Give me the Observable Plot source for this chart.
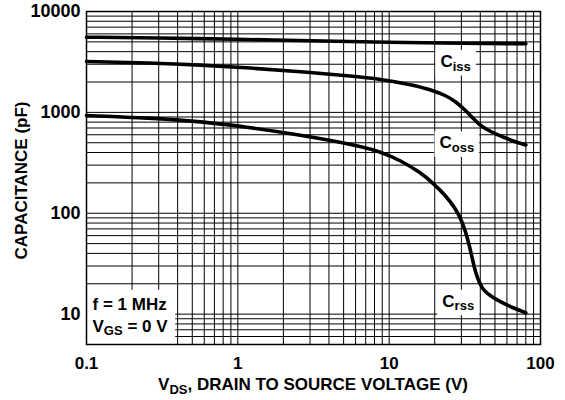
<!DOCTYPE html>
<html><head><meta charset="utf-8">
<script src="https://cdn.jsdelivr.net/npm/d3@7"></script>
<script src="https://cdn.jsdelivr.net/npm/@observablehq/plot@0.6"></script>
<style>
body{margin:0;background:#fff}
#chart svg{font-family:"Liberation Sans",Arial,sans-serif;font-weight:bold}
</style>
</head><body><div id="chart"></div>
<script>
// Ciss
const cissV = [0.1, 0.3, 1, 3, 10, 30, 80];
const cissC = [5560, 5480, 5300, 5120, 4950, 4840, 4790];
// Coss
const cossV = [0.1, 0.265, 0.566, 1.21, 2.59, 5.56, 8.77, 13.9, 18.8, 23.7, 27.5, 32.0, 35.9, 39.1, 42.9, 51.0, 64.1, 80];
const cossC = [3190, 3090, 2950, 2755, 2541, 2294, 2143, 1889, 1686, 1470, 1281, 1044, 871, 768, 692, 604, 527, 475];
// Crss
const crssV = [0.1, 0.265, 0.566, 1.21, 2.59, 5.56, 8.77, 11.9, 16.1, 19.7, 23.6, 27.5, 30.6, 33.0, 35.1, 36.6, 38.4, 40.2, 42.1, 46.8, 52.0, 58.7, 68.4, 80];
const crssC = [930, 880, 813, 708, 597, 486, 410, 333, 254, 196, 150, 111, 81, 56, 38.2, 28.4, 22.6, 19.5, 17.2, 15.1, 13.8, 12.5, 11.3, 10.3];

const xTicks = [0.1, 1, 10, 100];
const xTickLabels = ["0.1", "1", "10", "100"];
const yTicks = [5, 10, 100, 1000, 10000];
const yTickLabels = ["5", "10", "100", "1000", "10000"];

// curve labels: "main|sub|rest"
const curveLabels = [
  {v: 27.5, c: 3190, t: "C|iss"},
  {v: 28.0, c: 498, t: "C|oss"},
  {v: 28.6, c: 13.4, t: "C|rss"}
];
const condLabels = [
  {v: 0.1096, c: 12.5, t: "f = 1 MHz"},
  {v: 0.1096, c: 7.55, t: "V|GS| = 0 V"}
];
const xTitle = "V|DS|, DRAIN TO SOURCE VOLTAGE (V)";
const yTitle = "CAPACITANCE (pF)";

const series = [
  ...cissV.map((v, i) => ({s: "Ciss", v, c: cissC[i]})),
  ...cossV.map((v, i) => ({s: "Coss", v, c: cossC[i]})),
  ...crssV.map((v, i) => ({s: "Crss", v, c: crssC[i]}))
];

const xGrid = d3.scaleLog().domain([0.1, 100]).ticks();
const yGrid = [5, 6, 7, 8, 9, ...d3.scaleLog().domain([10, 10000]).ticks()];

const plot = Plot.plot({
  width: 565, height: 400,
  marginLeft: 86, marginRight: 25, marginTop: 11, marginBottom: 56,
  style: {background: "white", color: "black", fontSize: "17px", fontWeight: "bold", fontFamily: "Liberation Sans, Arial, sans-serif"},
  x: {type: "log", domain: [0.1, 100]},
  y: {type: "log", domain: [5, 10000]},
  marks: [
    Plot.ruleX(xGrid, {stroke: "black", strokeWidth: 1}),
    Plot.ruleY(yGrid, {stroke: "black", strokeWidth: 1}),
    Plot.line(series, {x: "v", y: "c", z: "s", stroke: "black", strokeWidth: 3.6, curve: "basis"}),
    Plot.text(curveLabels, {x: "v", y: "c", text: "t", textAnchor: "middle", fontSize: 17, fill: "black"}),
    Plot.text(condLabels, {x: "v", y: "c", text: "t", textAnchor: "start", fontSize: 17, fill: "black"}),
    Plot.axisX(xTicks, {tickSize: 0, tickPadding: 12, label: null, fontSize: 17, tickFormat: d => xTickLabels[xTicks.indexOf(d)]}),
    Plot.axisY(yTicks, {tickSize: 0, tickPadding: 6, label: null, fontSize: 18, tickFormat: d => yTickLabels[yTicks.indexOf(d)]}),
    Plot.frame({stroke: "black", strokeWidth: 1.5})
  ]
});

document.getElementById("chart").appendChild(plot);
const svg = d3.select(plot);
const sx = plot.scale("x"), sy = plot.scale("y");

function fillRich(textSel, str, size) {
  const parts = str.split("|");
  textSel.text(null);
  textSel.append("tspan").text(parts[0]);
  if (parts.length > 1) {
    textSel.append("tspan").attr("font-size", Math.round(size * 0.76)).attr("dy", 3.5).text(parts[1]);
    if (parts[2]) textSel.append("tspan").attr("dy", -3.5).text(parts[2]);
  }
}

function offsetOf(n) {
  const tr = n.getAttribute("transform");
  let dx = 0, dy = 0;
  if (tr) { const mm = /translate\(\s*([-\d.e]+)[ ,]+([-\d.e]+)\s*\)/.exec(tr); if (mm) { dx = +mm[1]; dy = +mm[2]; } }
  return [dx, dy];
}

const curveTexts = [], condTexts = [];
const curveSet = new Set(curveLabels.map(d => d.t));
const condSet = new Set(condLabels.map(d => d.t));
svg.selectAll("text").each(function() {
  const s = this.textContent;
  if (curveSet.has(s)) curveTexts.push(this);
  else if (condSet.has(s)) condTexts.push(this);
});
curveTexts.concat(condTexts).forEach(n => {
  const t = d3.select(n);
  fillRich(t, t.text(), 17);
});

// white boxes behind curve labels
curveTexts.forEach(n => {
  const b = n.getBBox();
  const tr = n.getAttribute("transform");
  const r = d3.select(n.parentNode).insert("rect", () => n)
    .attr("x", b.x - 5).attr("y", b.y - 2).attr("width", b.width + 10).attr("height", b.height + 4)
    .attr("fill", "white");
  if (tr) r.attr("transform", tr);
});

// white box behind conditions
if (condTexts.length) {
  let x1 = -Infinity, y0 = Infinity;
  condTexts.forEach(n => {
    const b = n.getBBox();
    const [dx, dy] = offsetOf(n);
    x1 = Math.max(x1, dx + b.x + b.width);
    y0 = Math.min(y0, dy + b.y);
  });
  const left = sx.apply(0.1), bottom = sy.apply(5);
  d3.select(condTexts[0].parentNode).insert("rect", () => condTexts[0])
    .attr("x", left).attr("y", y0 - 5).attr("width", x1 + 7 - left).attr("height", bottom - y0 + 5)
    .attr("fill", "white");
}

// axis titles
const cx = (sx.apply(0.1) + sx.apply(100)) / 2;
const xt = svg.append("text").attr("x", cx).attr("y", 390).attr("text-anchor", "middle")
  .attr("font-size", 17).attr("fill", "black");
fillRich(xt, xTitle, 17);

const cy = (sy.apply(5) + sy.apply(10000)) / 2 + 3;
svg.append("text").attr("transform", `translate(27,${cy}) rotate(-90)`).attr("text-anchor", "middle")
  .attr("font-size", 17).attr("fill", "black").text(yTitle);
</script>
</body></html>
